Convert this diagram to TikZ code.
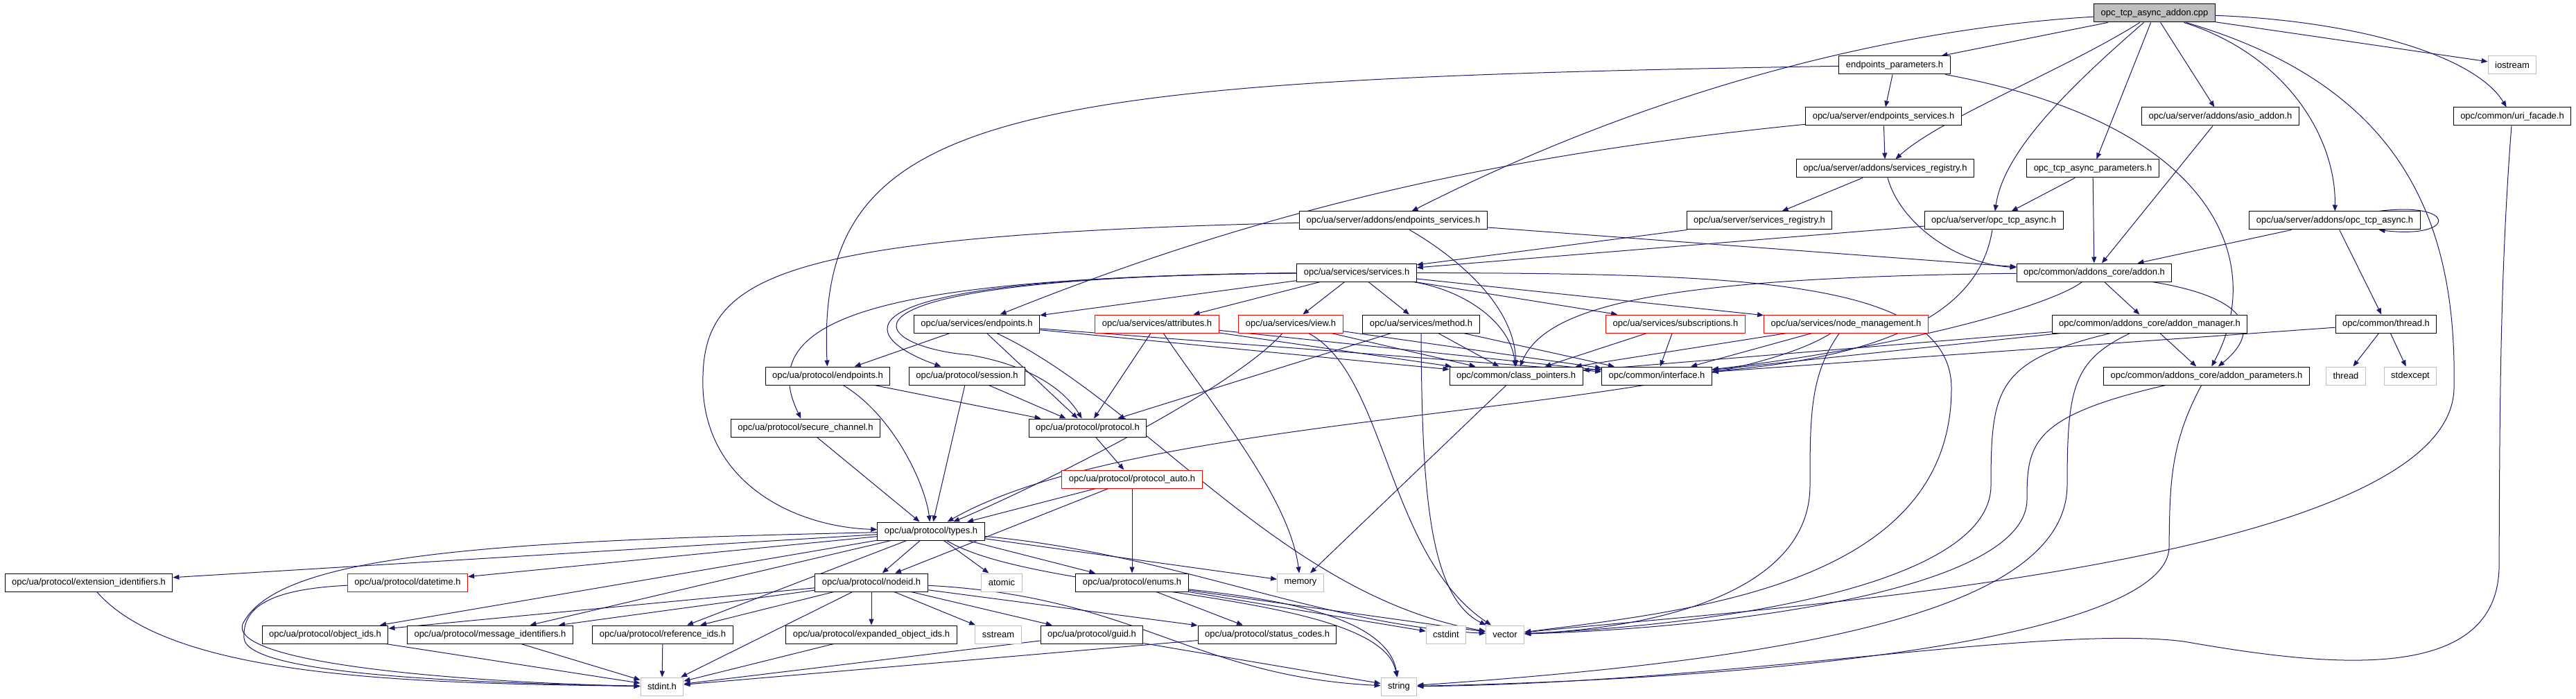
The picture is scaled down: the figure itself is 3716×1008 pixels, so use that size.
\documentclass[tikz,border=0pt]{standalone}
\usepackage{fontspec}
\setmainfont{Liberation Sans}
\usetikzlibrary{arrows.meta}
\definecolor{edgeblue}{HTML}{191970}
\definecolor{sysgray}{HTML}{BFBFBF}
\pgfdeclarelayer{bg}
\pgfsetlayers{bg,main}

\begin{document}
\begin{tikzpicture}[x=1pt, y=-1pt,
                hdr/.style={draw=black, fill=white, line width=1pt, minimum height=26pt,
                            inner xsep=10pt, inner ysep=2pt, font=\fontsize{13}{15}\selectfont},
                rootfile/.style={hdr, fill=sysgray},
                trunc/.style={hdr, draw=red},
                syshdr/.style={hdr, draw=sysgray},
                dep/.style={draw=edgeblue, line width=1pt, -{Triangle[length=9pt,width=7pt]}}]
                \useasboundingbox (0,0) rectangle (3716,1008);
                % rank 0 - 4
                \node[rootfile] (root)      at (3108,19)  {opc\_tcp\_async\_addon.cpp};
                \node[hdr]      (epparams)  at (2733,94)  {endpoints\_parameters.h};
                \node[syshdr]   (iostream)  at (3624,94)  {iostream};
                \node[hdr]      (srvepsvc)  at (2717,168) {opc/ua/server/endpoints\_services.h};
                \node[hdr]      (asio)      at (3203,168) {opc/ua/server/addons/asio\_addon.h};
                \node[hdr]      (urifac)    at (3624,168) {opc/common/uri\_facade.h};
                \node[hdr, anchor=east] (addsvcreg) at (2848,243) {opc/ua/server/addons/services\_registry.h};
                \node[hdr]      (tcpparams) at (3019,243) {opc\_tcp\_async\_parameters.h};
                \node[hdr]      (addepsvc)  at (2010,318) {opc/ua/server/addons/endpoints\_services.h};
                \node[hdr]      (svcreg)    at (2538,318) {opc/ua/server/services\_registry.h};
                \node[hdr]      (srvtcp)    at (2876,318) {opc/ua/server/opc\_tcp\_async.h};
                \node[hdr]      (addtcp)    at (3368,318) {opc/ua/server/addons/opc\_tcp\_async.h};
                % rank 5 - 9
                \node[hdr]      (services)  at (1957,393) {opc/ua/services/services.h};
                \node[hdr]      (addon)     at (3021,393) {opc/common/addons\_core/addon.h};
                \node[hdr]      (svcep)     at (1409,467) {opc/ua/services/endpoints.h};
                \node[trunc]    (attrs)     at (1669,467) {opc/ua/services/attributes.h};
                \node[trunc]    (view)      at (1862,467) {opc/ua/services/view.h};
                \node[hdr]      (method)    at (2050,467) {opc/ua/services/method.h};
                \node[trunc]    (subs)      at (2417,467) {opc/ua/services/subscriptions.h};
                \node[trunc]    (nodemgmt)  at (2663,467) {opc/ua/services/node\_management.h};
                \node[hdr]      (addonmgr)  at (3101,467) {opc/common/addons\_core/addon\_manager.h};
                \node[hdr]      (cthread)   at (3442,467) {opc/common/thread.h};
                \node[hdr]      (protep)    at (1194,542) {opc/ua/protocol/endpoints.h};
                \node[hdr]      (session)   at (1395,542) {opc/ua/protocol/session.h};
                \node[hdr]      (clsptr)    at (2187,542) {opc/common/class\_pointers.h};
                \node[hdr]      (iface)     at (2390,542) {opc/common/interface.h};
                \node[hdr]      (addonpar)  at (3183,542) {opc/common/addons\_core/addon\_parameters.h};
                \node[syshdr]   (thread)    at (3384,542) {thread};
                \node[syshdr]   (stdexcept) at (3477,542) {stdexcept};
                \node[hdr]      (secch)     at (1162,617) {opc/ua/protocol/secure\_channel.h};
                \node[hdr]      (protocol)  at (1569,617) {opc/ua/protocol/protocol.h};
                \node[trunc]    (protauto)  at (1633,691) {opc/ua/protocol/protocol\_auto.h};
                % rank 10 - 13
                \node[hdr]      (types)     at (1343,766) {opc/ua/protocol/types.h};
                \node[hdr]      (extid)     at (128,840)  {opc/ua/protocol/extension\_identifiers.h};
                \node[trunc]    (datetime)  at (588,840)  {opc/ua/protocol/datetime.h};
                \node[hdr]      (nodeid)    at (1257,840) {opc/ua/protocol/nodeid.h};
                \node[syshdr]   (atomic)    at (1445,840) {atomic};
                \node[hdr]      (enums)     at (1633,840) {opc/ua/protocol/enums.h};
                \node[syshdr]   (memory)    at (1876,840) {memory};
                \node[hdr]      (objids)    at (469,915)  {opc/ua/protocol/object\_ids.h};
                \node[hdr]      (msgids)    at (707,915)  {opc/ua/protocol/message\_identifiers.h};
                \node[hdr]      (refids)    at (956,915)  {opc/ua/protocol/reference\_ids.h};
                \node[hdr]      (expids)    at (1257,915) {opc/ua/protocol/expanded\_object\_ids.h};
                \node[syshdr]   (sstream)   at (1440,915) {sstream};
                \node[hdr]      (guid)      at (1575,915) {opc/ua/protocol/guid.h};
                \node[hdr]      (status)    at (1828,915) {opc/ua/protocol/status\_codes.h};
                \node[syshdr]   (cstdint)   at (2086,915) {cstdint};
                \node[syshdr]   (vector)    at (2171,915) {vector};
                \node[syshdr]   (stdint)    at (955,990)  {stdint.h};
                \node[syshdr]   (string)    at (2018,990) {string};

                \begin{pgfonlayer}{bg}
                % includes of the source file
                \draw[dep] (root) .. controls (2750,40) and (2400,120) .. (addepsvc);
                \draw[dep] (root) -- (epparams);
                \draw[dep] (root) .. controls (2980,100) and (2800,170) .. (addsvcreg);
                \draw[dep] (root) .. controls (2980,130) and (2890,220) .. (srvtcp);
                \draw[dep] (root) -- (tcpparams);
                \draw[dep] (root) -- (asio);
                \draw[dep] (root) .. controls (3300,80) and (3370,200) .. (addtcp);
                \draw[dep] (root) .. controls (3450,120) and (3545,300) .. (3540,560)
                                  .. controls (3535,820) and (2500,880) .. (vector);
                \draw[dep] (root) -- (iostream);
                \draw[dep] (root) .. controls (3400,30) and (3570,80) .. (urifac);
                % server headers
                \draw[dep] (epparams) .. controls (1450,115) and (1176,155) .. (protep);
                \draw[dep] (epparams) -- (srvepsvc);
                \draw[dep] (epparams) .. controls (3200,180) and (3270,380) .. (addonpar);
                \draw[dep] (srvepsvc) -- (addsvcreg);
                \draw[dep] (srvepsvc) .. controls (2200,220) and (1850,290) .. (svcep);
                \draw[dep] (addsvcreg) -- (svcreg);
                \draw[dep] (addsvcreg) .. controls (2740,320) and (2820,380) .. (addon);
                \draw[dep] (tcpparams) -- (srvtcp);
                \draw[dep] (tcpparams) -- (addon);
                \draw[dep] (asio) -- (addon);
                \draw[dep] (urifac) .. controls (3606,400) and (3606,600) .. (3605,820)
                                    .. controls (3600,990) and (3350,960) .. (3150,925)
                                    .. controls (2950,900) and (2500,985) .. (string);
                \draw[dep] (addtcp.12) .. controls (3545,290) and (3545,345) .. (addtcp.-12);
                \draw[dep] (addtcp) -- (addon);
                \draw[dep] (addtcp) -- (cthread);
                \draw[dep] (addepsvc) .. controls (1100,340) and (1010,400) .. (1014,560)
                                      .. controls (1020,700) and (1150,760) .. (types);
                \draw[dep] (addepsvc) .. controls (2100,370) and (2185,440) .. (clsptr);
                \draw[dep] (addepsvc) -- (addon);
                \draw[dep] (svcreg) -- (services);
                \draw[dep] (srvtcp) -- (services);
                \draw[dep] (srvtcp) .. controls (2860,420) and (2780,510) .. (iface);
                % services
                \draw[dep] (services) -- (svcep);
                \draw[dep] (services) -- (attrs);
                \draw[dep] (services) -- (view);
                \draw[dep] (services) -- (method);
                \draw[dep] (services) -- (subs);
                \draw[dep] (services) -- (nodemgmt);
                \draw[dep] (services) .. controls (2120,420) and (2180,470) .. (clsptr);
                \draw[dep] (services) .. controls (2500,395) and (2815,400) .. (2815,560)
                                      .. controls (2815,840) and (2450,880) .. (vector);
                \draw[dep] (services) .. controls (1300,400) and (1080,450) .. (secch);
                \draw[dep] (services) .. controls (1150,400) and (1250,490) .. (session);
                \draw[dep] (services) .. controls (1150,400) and (1250,500) .. (1400,512)
                                      .. controls (1500,530) and (1540,570) .. (protocol);
                \draw[dep] (svcep) -- (protep);
                \draw[dep] (svcep) -- (protocol);
                \draw[dep] (svcep) -- (clsptr);
                \draw[dep] (svcep) -- (iface);
                \draw[dep] (svcep) .. controls (1650,580) and (1850,860) .. (vector);
                \draw[dep] (attrs) -- (protocol);
                \draw[dep] (attrs) -- (clsptr);
                \draw[dep] (attrs) -- (iface);
                \draw[dep] (attrs) .. controls (1760,600) and (1860,720) .. (memory);
                \draw[dep] (view) -- (clsptr);
                \draw[dep] (view) -- (iface);
                \draw[dep] (view) .. controls (1780,560) and (1500,700) .. (types);
                \draw[dep] (view) .. controls (2000,540) and (2000,800) .. (vector);
                \draw[dep] (method) -- (clsptr);
                \draw[dep] (method) -- (iface);
                \draw[dep] (method) -- (protocol);
                \draw[dep] (method) .. controls (2051,700) and (2060,860) .. (vector);
                \draw[dep] (subs) -- (clsptr);
                \draw[dep] (subs) -- (iface);
                \draw[dep] (nodemgmt) -- (clsptr);
                \draw[dep] (nodemgmt) -- (iface);
                \draw[dep] (nodemgmt) .. controls (2450,600) and (1650,590) .. (types);
                \draw[dep] (nodemgmt) .. controls (2611,540) and (2611,600) .. (2611,700)
                                      .. controls (2611,850) and (2400,905) .. (vector);
                % addons core
                \draw[dep] (addon) .. controls (2400,400) and (2230,440) .. (clsptr);
                \draw[dep] (addon) .. controls (2960,440) and (2750,500) .. (iface);
                \draw[dep] (addon) -- (addonmgr);
                \draw[dep] (addon) .. controls (3250,430) and (3260,480) .. (addonpar);
                \draw[dep] (addonmgr) -- (clsptr);
                \draw[dep] (addonmgr) -- (iface);
                \draw[dep] (addonmgr) -- (addonpar);
                \draw[dep] (addonmgr) .. controls (2880,520) and (2872,560) .. (2872,700)
                                      .. controls (2872,840) and (2500,900) .. (vector);
                \draw[dep] (addonmgr) .. controls (2990,520) and (2982,560) .. (2982,700)
                                      .. controls (2980,880) and (2600,950) .. (string);
                \draw[dep] (cthread) -- (iface);
                \draw[dep] (cthread) -- (thread);
                \draw[dep] (cthread) -- (stdexcept);
                \draw[dep] (addonpar) .. controls (2930,600) and (2924,640) .. (2924,720)
                                      .. controls (2924,850) and (2500,905) .. (vector);
                \draw[dep] (addonpar) .. controls (3130,640) and (3130,700) .. (3129,790)
                                      .. controls (3125,900) and (2700,975) .. (string);
                \draw[dep] (clsptr) -- (memory);
                % protocol
                \draw[dep] (protep) -- (protocol);
                \draw[dep] (protep) .. controls (1290,600) and (1335,700) .. (types);
                \draw[dep] (session) -- (protocol);
                \draw[dep] (session) -- (types);
                \draw[dep] (secch) -- (types);
                \draw[dep] (protocol) -- (protauto);
                \draw[dep] (protauto) -- (types);
                \draw[dep] (protauto) -- (nodeid);
                \draw[dep] (protauto) -- (enums);
                \draw[dep] (types) -- (extid);
                \draw[dep] (types) -- (datetime);
                \draw[dep] (types) -- (objids);
                \draw[dep] (types) -- (msgids);
                \draw[dep] (types) -- (refids);
                \draw[dep] (types) -- (nodeid);
                \draw[dep] (types) -- (atomic);
                \draw[dep] (types) -- (enums);
                \draw[dep] (types) -- (memory);
                \draw[dep] (types) .. controls (1700,800) and (1900,900) .. (vector);
                \draw[dep] (types) .. controls (1500,860) and (1990,850) .. (string);
                \draw[dep] (types) .. controls (700,780) and (400,800) .. (350,900)
                                   .. controls (330,960) and (700,985) .. (stdint);
                \draw[dep] (nodeid) -- (objids);
                \draw[dep] (nodeid) -- (msgids);
                \draw[dep] (nodeid) -- (refids);
                \draw[dep] (nodeid) -- (expids);
                \draw[dep] (nodeid) -- (sstream);
                \draw[dep] (nodeid) -- (guid);
                \draw[dep] (nodeid) -- (status);
                \draw[dep] (nodeid) -- (stdint);
                \draw[dep] (nodeid) .. controls (1640,860) and (1720,975) .. (string);
                \draw[dep] (enums) -- (status);
                \draw[dep] (enums) -- (cstdint);
                \draw[dep] (enums) -- (vector);
                \draw[dep] (enums) .. controls (1800,860) and (2000,880) .. (string);
                \draw[dep] (extid) .. controls (250,980) and (600,985) .. (stdint);
                \draw[dep] (datetime) .. controls (380,850) and (350,880) .. (352,920)
                                      .. controls (355,975) and (700,985) .. (stdint);
                \draw[dep] (objids) -- (stdint);
                \draw[dep] (msgids) -- (stdint);
                \draw[dep] (refids) -- (stdint);
                \draw[dep] (expids) -- (stdint);
                \draw[dep] (guid) -- (stdint);
                \draw[dep] (guid) -- (string);
                \draw[dep] (status) -- (stdint);
                \end{pgfonlayer}
            \end{tikzpicture}
\end{document}
